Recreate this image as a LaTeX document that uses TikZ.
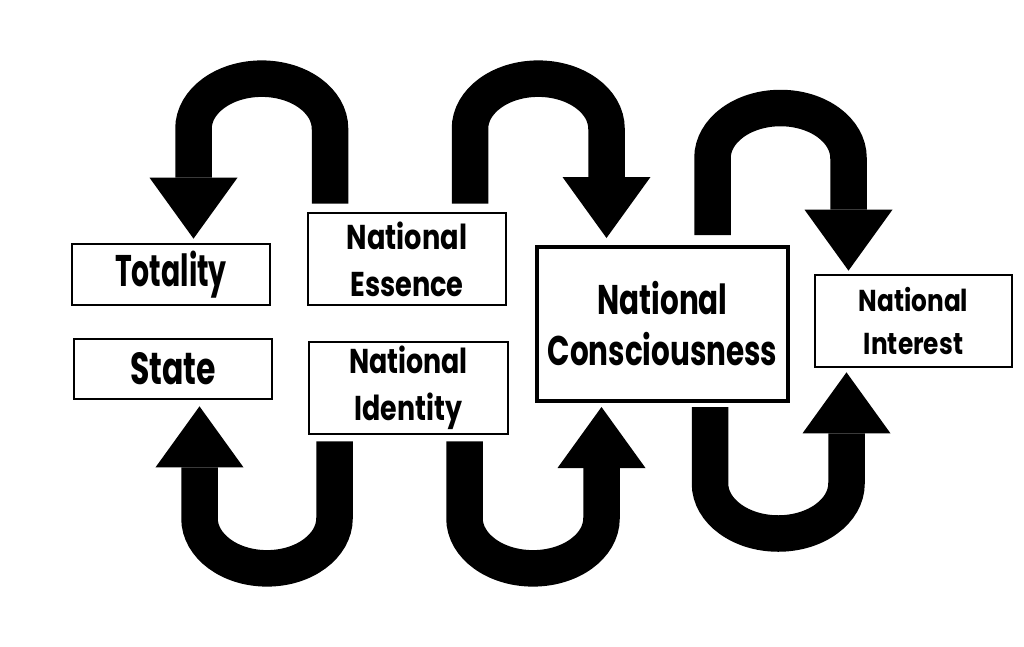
\documentclass[tikz,border=0pt]{standalone}
\usepackage{fontspec}
\setmainfont{Poppins}
\usetikzlibrary{arrows.meta}

\begin{document}
\begin{tikzpicture}[>= {Triangle[width=0.88cm,length=0.61cm,line width=0pt]}, concept/.style ={rectangle,draw,black,line width=0.027cm,inner sep=0pt,align=center}, loop/.style={line width=0.365cm,->}]
\useasboundingbox (0,0) rectangle (10.24,-6.46);
\node[concept, minimum width=1.98cm, minimum height=0.61cm, font=\bfseries\fontsize{12.6}{14}\selectfont\addfontfeature{FakeStretch=0.64}] (totality) at (1.71,-2.745) {Totality};
\node[concept, minimum width=1.98cm, minimum height=0.60cm, font=\bfseries\fontsize{12.8}{14}\selectfont\addfontfeature{FakeStretch=0.70}] (state) at (1.73,-3.69) {State};
\node[concept, minimum width=1.98cm, minimum height=0.92cm, font=\bfseries\fontsize{9.8}{13.4}\selectfont\addfontfeature{FakeStretch=0.79}] (essence) at (4.07,-2.59) {National\\Essence};
\node[concept, minimum width=1.99cm, minimum height=0.92cm, font=\bfseries\fontsize{9.8}{13.4}\selectfont\addfontfeature{FakeStretch=0.78}] (identity) at (4.085,-3.88) {National\\Identity};
\node[concept, line width=0.04cm, minimum width=2.51cm, minimum height=1.54cm, font=\bfseries\fontsize{11.8}{14.5}\selectfont\addfontfeature{FakeStretch=0.71}] (conscious) at (6.625,-3.24) {National\\Consciousness};
\node[concept, minimum width=1.97cm, minimum height=0.92cm, font=\bfseries\fontsize{8.6}{12.5}\selectfont\addfontfeature{FakeStretch=0.82}] (interest) at (9.135,-3.21) {National\\Interest};
% upper loops
\draw[loop, shorten <=0.08cm, shorten >=0.04cm]
([xshift=-0.77cm]essence.north) -- ++(0,0.83) arc[start angle=0, end angle=180, x radius=0.6825cm, y radius=0.50cm] -- ([xshift=0.225cm]totality.north);
\draw[loop, shorten <=0.08cm, shorten >=0.07cm]
([xshift=0.63cm]essence.north) -- ++(0,0.83) arc[start angle=180, end angle=0, x radius=0.6825cm, y radius=0.50cm] -- ([xshift=-0.56cm]conscious.north);
\draw[loop, shorten <=0.10cm, shorten >=0.03cm]
([xshift=0.50cm]conscious.north) -- ++(0,0.87) arc[start angle=180, end angle=0, x radius=0.68cm, y radius=0.50cm] -- ([xshift=-0.65cm]interest.north);
% lower loops
\draw[loop, shorten <=0.06cm, shorten >=0.06cm]
([xshift=-0.74cm]identity.south) -- ++(0,-0.83) arc[start angle=0, end angle=-180, x radius=0.675cm, y radius=0.50cm] -- ([xshift=0.265cm]state.south);
\draw[loop, shorten <=0.06cm, shorten >=0.04cm]
([xshift=0.56cm]identity.south) -- ++(0,-0.83) arc[start angle=180, end angle=360, x radius=0.685cm, y radius=0.50cm] -- ([xshift=-0.61cm]conscious.south);
\draw[loop, shorten <=0.04cm, shorten >=0.04cm]
([xshift=0.475cm]conscious.south) -- ++(0,-0.805) arc[start angle=180, end angle=360, x radius=0.6825cm, y radius=0.50cm] -- ([xshift=-0.67cm]interest.south);
\end{tikzpicture}
\end{document}
